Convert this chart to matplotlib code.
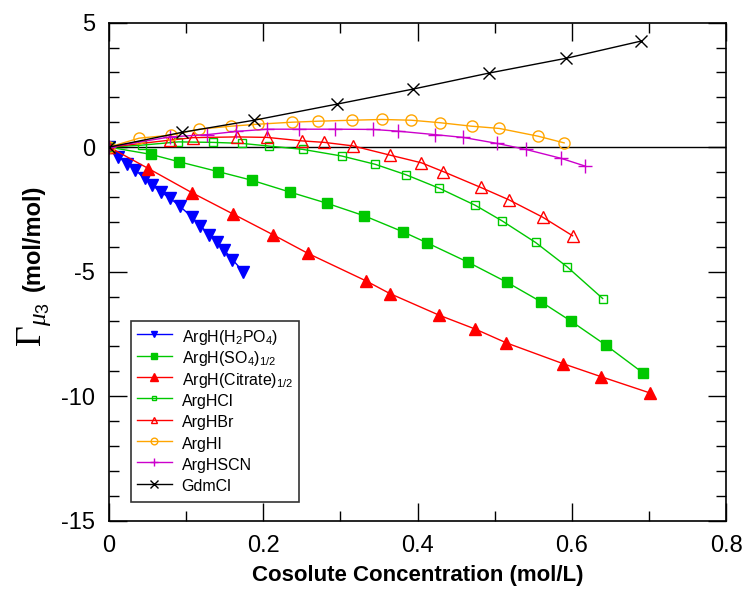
import numpy as np
import matplotlib
matplotlib.use("Agg")
import matplotlib.pyplot as plt
from matplotlib.ticker import MultipleLocator

plt.rcParams['font.family'] = ['Liberation Sans', 'DejaVu Sans']
plt.rcParams['mathtext.fontset'] = 'custom'
plt.rcParams['mathtext.rm'] = 'Liberation Sans'
plt.rcParams['mathtext.it'] = 'Liberation Serif:italic'
plt.rcParams['mathtext.sf'] = 'Liberation Serif'
plt.rcParams['axes.unicode_minus'] = False

# data (x in mol/L, y in mol/mol)
h2po4_x = [0, 0.012, 0.023, 0.034, 0.046, 0.056, 0.067, 0.079, 0.092, 0.107, 0.118, 0.130, 0.140, 0.149, 0.160, 0.174]
h2po4_y = [0, -0.39, -0.66, -0.92, -1.26, -1.53, -1.80, -2.05, -2.38, -2.80, -3.15, -3.52, -3.83, -4.12, -4.52, -5.00]

so4_x = [0, 0.054, 0.091, 0.141, 0.185, 0.235, 0.282, 0.331, 0.381, 0.412, 0.466, 0.516, 0.560, 0.599, 0.644, 0.692]
so4_y = [0, -0.29, -0.59, -0.98, -1.33, -1.81, -2.25, -2.76, -3.40, -3.84, -4.63, -5.43, -6.21, -6.99, -7.95, -9.06]

citrate_x = [0, 0.051, 0.108, 0.161, 0.212, 0.258, 0.333, 0.364, 0.428, 0.475, 0.515, 0.588, 0.638, 0.701]
citrate_y = [0, -0.86, -1.84, -2.69, -3.51, -4.27, -5.37, -5.88, -6.75, -7.31, -7.86, -8.69, -9.22, -9.87]

hcl_x = [0, 0.043, 0.090, 0.135, 0.172, 0.208, 0.251, 0.302, 0.345, 0.385, 0.428, 0.475, 0.510, 0.553, 0.594, 0.640]
hcl_y = [0, 0.08, 0.21, 0.19, 0.15, 0.04, -0.09, -0.36, -0.69, -1.11, -1.65, -2.34, -2.97, -3.83, -4.81, -6.08]

hbr_x = [0, 0.079, 0.109, 0.166, 0.205, 0.250, 0.279, 0.316, 0.364, 0.405, 0.433, 0.482, 0.518, 0.562, 0.601]
hbr_y = [0, 0.28, 0.38, 0.41, 0.39, 0.25, 0.19, 0.05, -0.32, -0.63, -0.98, -1.62, -2.11, -2.81, -3.56]

hi_x = [0, 0.039, 0.080, 0.117, 0.158, 0.193, 0.237, 0.271, 0.315, 0.354, 0.392, 0.429, 0.470, 0.506, 0.556, 0.590]
hi_y = [0, 0.36, 0.48, 0.72, 0.84, 0.92, 1.00, 1.04, 1.08, 1.11, 1.08, 0.98, 0.84, 0.75, 0.44, 0.17]

hscn_x = [0, 0.079, 0.127, 0.165, 0.205, 0.246, 0.293, 0.342, 0.375, 0.423, 0.459, 0.503, 0.540, 0.586, 0.617]
hscn_y = [0, 0.41, 0.50, 0.63, 0.72, 0.72, 0.72, 0.71, 0.64, 0.50, 0.39, 0.15, -0.09, -0.45, -0.76]

gdm_x = [0, 0.094, 0.188, 0.296, 0.394, 0.492, 0.593, 0.690]
gdm_y = [0, 0.59, 1.08, 1.73, 2.33, 2.97, 3.57, 4.26]

fig = plt.figure(figsize=(7.47, 5.95), dpi=100)
ax = fig.add_axes([0.146, 0.125, 0.826, 0.837])

ax.axhline(0, color='black', lw=1.0, zorder=1)

ax.plot(h2po4_x, h2po4_y, color='#0000ff', marker='v', ms=8, lw=1.0, label=r'ArgH(H$_2$PO$_4$)')
ax.plot(so4_x, so4_y, color='#00c800', marker='s', ms=6.5, lw=1.0, label=r'ArgH(SO$_4$)$_{1/2}$')
ax.plot(citrate_x, citrate_y, color='#ff0000', marker='^', ms=9, lw=1.0, label=r'ArgH(Citrate)$_{1/2}$')
ax.plot(hcl_x, hcl_y, color='#00c800', marker='s', ms=6, mfc='none', mew=1.0, lw=1.0, label='ArgHCl')
ax.plot(hbr_x, hbr_y, color='#ff0000', marker='^', ms=8, mfc='none', mew=1.0, lw=1.0, label='ArgHBr')
ax.plot(hi_x, hi_y, color='#ffa500', marker='o', ms=8, mfc='none', mew=1.0, lw=1.0, label='ArgHI')
ax.plot(hscn_x, hscn_y, color='#cc00cc', marker='+', ms=10, mew=1.0, lw=1.0, label='ArgHSCN')
ax.plot(gdm_x, gdm_y, color='black', marker='x', ms=9, mew=1.0, lw=1.0, label='GdmCl')

ax.set_xlim(0, 0.8)
ax.set_ylim(-15, 5)
ax.set_xticks([0, 0.2, 0.4, 0.6, 0.8])
ax.set_xticklabels(['0', '0.2', '0.4', '0.6', '0.8'])
ax.xaxis.set_minor_locator(MultipleLocator(0.1))
ax.yaxis.set_major_locator(MultipleLocator(5))
ax.yaxis.set_minor_locator(MultipleLocator(1))
ax.tick_params(which='both', direction='in', top=True, right=True, width=1.0)
ax.tick_params(which='major', length=13, labelsize=17, pad=10)
ax.tick_params(which='minor', length=7)
for s in ax.spines.values():
    s.set_linewidth(1.2)

ax.set_xlabel('Cosolute Concentration (mol/L)', fontsize=16, fontweight='bold', labelpad=6)

# y label: big serif Gamma with subscript, then bold units
fig.text(33 / 747, 1 - 238 / 595, '(mol/mol)', rotation=90, fontsize=17, fontweight='bold',
         ha='center', va='center')
fig.text(34 / 747, 1 - 302 / 595, r'$\mathsf{\Gamma}_{\mu_3}$', rotation=90, fontsize=26,
         ha='center', va='top')

leg = ax.legend(loc='lower left', bbox_to_anchor=(0.036, 0.0375), borderaxespad=0, fontsize=11.5,
                markerscale=0.6, frameon=True, fancybox=False, edgecolor='black',
                handlelength=2.2, handleheight=1.6, labelspacing=0.05, borderpad=0.35,
                handletextpad=0.6)
leg.get_frame().set_linewidth(1.2)

fig.savefig('out.png', dpi=100)
